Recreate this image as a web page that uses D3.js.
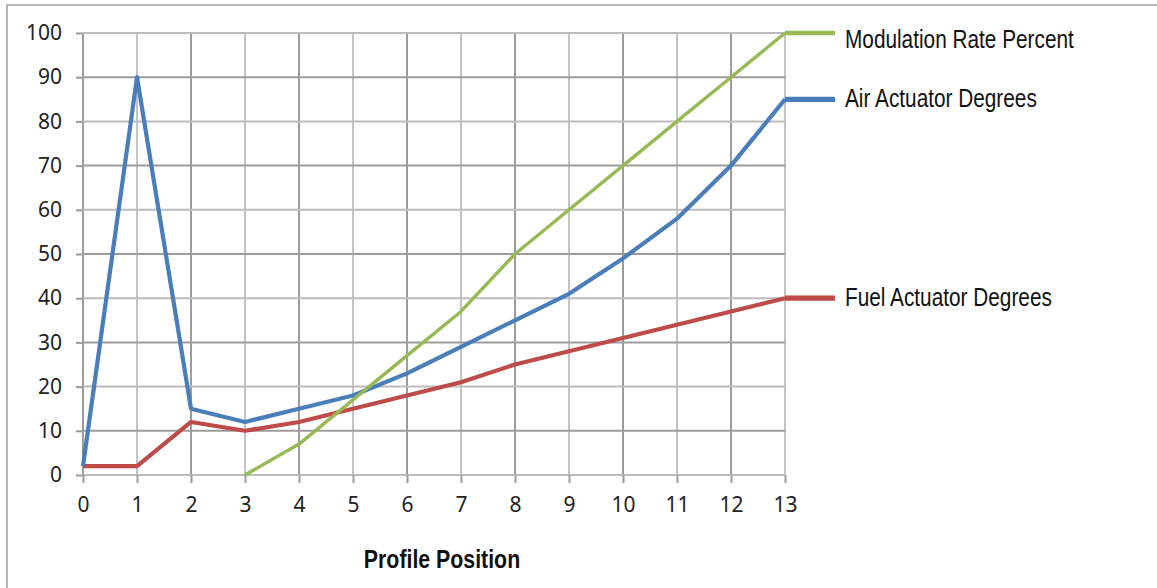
<!DOCTYPE html>
<html lang="en">
<head>
<meta charset="utf-8">
<title>Profile Position chart</title>
<script src="https://d3js.org/d3.v7.min.js"></script>
<style>
  body { margin: 0; background: #fff; }
  .legend { font-family: "Liberation Sans", Arial, sans-serif; font-size: 26px; fill: #111; }
  .xtitle { font-family: "Liberation Sans", Arial, sans-serif; font-size: 26px; font-weight: bold; fill: #111; }
</style>
</head>
<body>
<script>
// profile positions 0..13
var positions = [0, 1, 2, 3, 4, 5, 6, 7, 8, 9, 10, 11, 12, 13];
var airDegrees = [2, 90, 15, 12, 15, 18, 23, 29, 35, 41, 49, 58, 70, 85];
var fuelDegrees = [2, 2, 12, 10, 12, 15, 18, 21, 25, 28, 31, 34, 37, 40];
// modulation only starts at position 3
var modPositions = [3, 4, 5, 6, 7, 8, 9, 10, 11, 12, 13];
var modRate = [0, 7, 17, 27, 37, 50, 60, 70, 80, 90, 100];
var yTicks = [0, 10, 20, 30, 40, 50, 60, 70, 80, 90, 100];

var series = [
  { name: "Modulation Rate Percent", xs: modPositions, ys: modRate, color: "#98b954", w: 3.4 },
  { name: "Air Actuator Degrees", xs: positions, ys: airDegrees, color: "#4a7ebb", w: 4.2 },
  { name: "Fuel Actuator Degrees", xs: positions, ys: fuelDegrees, color: "#be4b48", w: 4.2 }
];

var width = 1157, height = 588;
var svg = d3.select("body").append("svg")
  .attr("width", width)
  .attr("height", height);

// outer frame (only top and left visible)
svg.append("path")
  .attr("d", "M7,588 V5 H1157")
  .attr("fill", "none")
  .attr("stroke", "#b4b4b4")
  .attr("stroke-width", 2);

var x = d3.scaleLinear().domain([0, 13]).range([83, 785]);
var y = d3.scaleLinear().domain([0, 100]).range([475, 33]);

// grid
svg.append("g").selectAll("line.v")
  .data(positions).enter().append("line")
  .attr("x1", d => x(d)).attr("x2", d => x(d))
  .attr("y1", y(100)).attr("y2", y(0))
  .attr("stroke", (d, i) => i % 2 ? "#c4c4c4" : "#9c9c9c")
  .attr("stroke-width", 2);

svg.append("g").selectAll("line.h")
  .data(yTicks).enter().append("line")
  .attr("x1", x(0)).attr("x2", x(13))
  .attr("y1", d => y(d)).attr("y2", d => y(d))
  .attr("stroke", (d, i) => i % 2 ? "#9c9c9c" : "#bcbcbc")
  .attr("stroke-width", 2);

// axes
var xAxis = svg.append("g")
  .attr("transform", "translate(0," + y(0) + ")")
  .call(d3.axisBottom(x).tickValues(positions).tickSize(8).tickPadding(14).tickFormat(d3.format("d")));
xAxis.select(".domain").remove();

var yAxis = svg.append("g")
  .attr("transform", "translate(" + x(0) + ",0)")
  .call(d3.axisLeft(y).tickValues(yTicks).tickSize(7).tickPadding(14));
yAxis.select(".domain").remove();

[xAxis, yAxis].forEach(function(ax) {
  ax.attr("font-family", "'Noto Sans', 'DejaVu Sans', sans-serif").attr("font-size", 21);
  ax.selectAll(".tick text").attr("fill", "#222");
  ax.selectAll(".tick line").attr("stroke", "#9c9c9c").attr("stroke-width", 2);
});

// lines
var line = d3.line().x(d => x(d[0])).y(d => y(d[1]));
series.slice().reverse().forEach(function(s) {
  var pts = s.xs.map((v, i) => [v, s.ys[i]]);
  svg.append("path")
    .datum(pts)
    .attr("d", line)
    .attr("fill", "none")
    .attr("stroke", s.color)
    .attr("stroke-width", s.w)
    .attr("stroke-linejoin", "round");
});

// legend next to each line end (narrow font look via horizontal squeeze)
series.forEach(function(s) {
  var last = s.ys[s.ys.length - 1];
  var ly = y(last);
  svg.append("line")
    .attr("x1", x(13)).attr("x2", x(13) + 50)
    .attr("y1", ly).attr("y2", ly)
    .attr("stroke", s.color).attr("stroke-width", s.w + 1);
  var base = Math.max(ly + 8, 48);
  svg.append("text")
    .attr("class", "legend")
    .attr("transform", "translate(" + (x(13) + 60) + "," + base + ") scale(0.8,1)")
    .text(s.name);
});

svg.append("text")
  .attr("class", "xtitle")
  .attr("transform", "translate(442,568) scale(0.82,1)")
  .attr("text-anchor", "middle")
  .text("Profile Position");
</script>
</body>
</html>
